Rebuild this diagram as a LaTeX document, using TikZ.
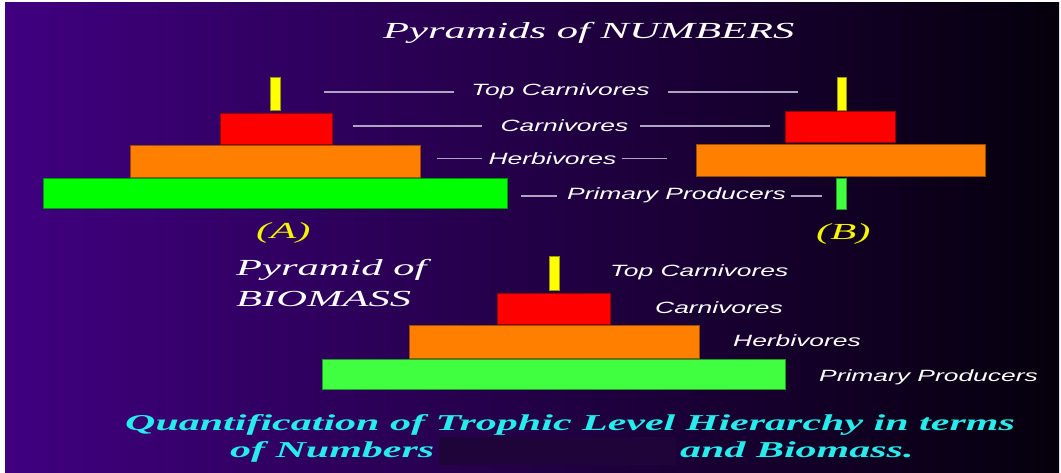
\documentclass[tikz,border=0pt]{standalone}
\usepackage{fontspec}
\usepackage{tikz}
\usetikzlibrary{positioning}
\newfontfamily\lblfont[FakeStretch=1.62]{Liberation Sans}
\newfontfamily\headfont[FakeStretch=1.85]{Liberation Serif}
\definecolor{bgleft}{RGB}{64,0,128}
\definecolor{bgright}{RGB}{5,0,12}
\definecolor{boxdark}{RGB}{30,4,56}
\definecolor{baryellow}{RGB}{255,255,0}
\definecolor{barred}{RGB}{255,0,0}
\definecolor{barorange}{RGB}{255,128,0}
\definecolor{bargreen}{RGB}{0,255,0}
\definecolor{barlime}{RGB}{64,255,64}
\definecolor{guidegray}{RGB}{175,165,195}
\definecolor{capyellow}{RGB}{245,245,0}
\definecolor{notecyan}{RGB}{40,235,235}

\begin{document}
\begin{tikzpicture}[x=1pt, y=-1pt,
        bar/.style={rectangle, draw=#1!60!black, fill=#1, line width=0.6pt, inner sep=0pt},
        lbl/.style={text=white, inner sep=0pt, anchor=base, font=\lblfont\itshape\fontsize{16.3}{18}\selectfont},
        guide/.style={draw=guidegray, line width=1.5pt},
        head/.style={inner sep=0pt, anchor=base west, font=\headfont\itshape\fontsize{23}{31}\selectfont},
        note/.style={text=notecyan, inner sep=0pt, anchor=base west, font=\headfont\bfseries\itshape\fontsize{22.7}{26}\selectfont}
    ]
        \useasboundingbox (0,0) rectangle (1061,473);
        \fill[white] (0,0) rectangle (1061,473);
        \shade[left color=bgleft, right color=bgright] (5,3) rectangle (1059,472);

        \node[head, text=white] (numTitle) at (383,39) {Pyramids of NUMBERS};

        % Pyramid (A)
        \node[bar=baryellow, minimum width=10pt, minimum height=33pt] (aTop) at (275,93.5) {};
        \node[bar=barred, minimum width=112pt, minimum height=31pt] (aCarn) at (276,128.5) {};
        \node[bar=barorange, minimum width=290pt, minimum height=32pt] (aHerb) at (275,161) {};
        \node[bar=bargreen, minimum width=464pt, minimum height=30pt] (aProd) at (275,193) {};
        \node[head, text=capyellow] (capA) at (256,239) {(A)};

        % Pyramid (B)
        \node[bar=baryellow, minimum width=9pt, minimum height=33pt] (bTop) at (841.5,93.5) {};
        \node[bar=barred, minimum width=110pt, minimum height=31pt] (bCarn) at (840,126.5) {};
        \node[bar=barorange, minimum width=289pt, minimum height=32pt] (bHerb) at (840.5,160) {};
        \node[bar=barlime, minimum width=10pt, minimum height=31pt] (bProd) at (841,193.5) {};
        \node[head, text=capyellow] (capB) at (816,240) {(B)};

        % Level names between the two pyramids
        \node[lbl] (nTop) at (560.5,96) {Top Carnivores};
        \node[lbl] (nCarn) at (564.5,131.7) {Carnivores};
        \node[lbl] (nHerb) at (552.5,164.3) {Herbivores};
        \node[lbl] (nProd) at (676.5,200) {Primary Producers};

        \draw[guide] ([xshift=-17pt]nTop.west) -- +(-130pt,0);
        \draw[guide] ([xshift=18pt]nTop.east) -- +(130pt,0);
        \draw[guide] ([xshift=-18pt]nCarn.west) -- +(-129pt,0);
        \draw[guide] ([xshift=11pt]nCarn.east) -- +(130pt,0);
        \draw[guide] ([xshift=-6pt]nHerb.west) -- +(-45pt,0);
        \draw[guide] ([xshift=5pt]nHerb.east) -- +(45pt,0);
        \draw[guide] ([xshift=-10pt]nProd.west) -- +(-36pt,0);
        \draw[guide] ([xshift=5pt]nProd.east) -- +(31pt,0);

        % Pyramid of biomass
        \node[head, text=white, anchor=north west, align=left] (bioTitle) at (236,259) {Pyramid of\\BIOMASS};
        \node[bar=baryellow, minimum width=10pt, minimum height=34pt] (cTop) at (554,273) {};
        \node[bar=barred, minimum width=113pt, minimum height=31pt] (cCarn) at (553.5,308.5) {};
        \node[bar=barorange, minimum width=290pt, minimum height=33pt] (cHerb) at (554,341.5) {};
        \node[bar=barlime, minimum width=463pt, minimum height=30pt] (cProd) at (553.5,374) {};

        \node[lbl, anchor=base west] (mTop) at (610,276.7) {Top Carnivores};
        \node[lbl, anchor=base west] (mCarn) at (655,314) {Carnivores};
        \node[lbl, anchor=base west] (mHerb) at (733,346.7) {Herbivores};
        \node[lbl, anchor=base west] (mProd) at (819,381.7) {Primary Producers};

        % Caption
        \fill[boxdark] (439,437) rectangle (676,465);
        \node[note] (noteA) at (125,430.7) {Quantification of Trophic Level Hierarchy in terms};
        \node[note] (noteB) at (230,457) {of Numbers};
        \node[note] (noteC) at (680,457) {and Biomass.};
    \end{tikzpicture}
\end{document}
